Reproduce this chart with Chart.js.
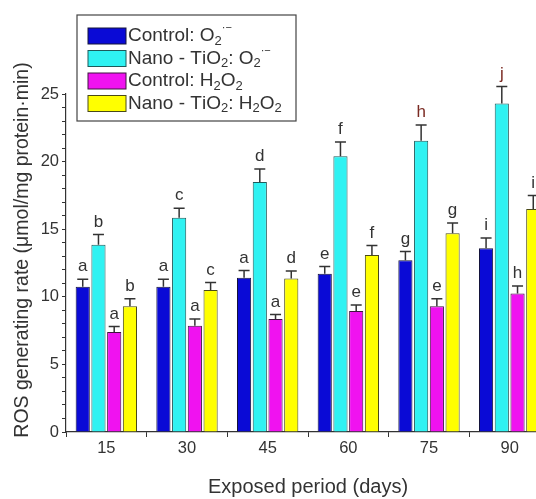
<!DOCTYPE html>
<html>
<head>
<meta charset="utf-8">
<script src="https://cdn.jsdelivr.net/npm/chart.js@4.4.1/dist/chart.umd.min.js"></script>
<style>
  body { margin: 0; background: #fff; }
  #wrap { width: 536px; height: 499px; overflow: hidden; }
</style>
</head>
<body>
<div id="wrap">
  <canvas id="rosChart" width="560" height="499"></canvas>
</div>
<script>
// datos
const days = ['15', '30', '45', '60', '75', '90'];
const seriesNames = ['Control: O₂˙⁻', 'Nano - TiO₂: O₂˙⁻', 'Control: H₂O₂', 'Nano - TiO₂: H₂O₂'];
const controlO2 = [10.75, 10.75, 11.4, 11.7, 12.7, 13.6];
const nanoO2 = [13.85, 15.85, 18.5, 20.4, 21.55, 24.3];
const controlH2O2 = [7.4, 7.85, 8.35, 8.95, 9.3, 10.25];
const nanoH2O2 = [9.3, 10.5, 11.35, 13.1, 14.7, 16.5];
const errControlO2 = [0.55, 0.55, 0.55, 0.55, 0.65, 0.75];
const errNanoO2 = [0.75, 0.7, 0.95, 1.05, 1.15, 1.25];
const errControlH2O2 = [0.4, 0.5, 0.35, 0.45, 0.55, 0.55];
const errNanoH2O2 = [0.55, 0.55, 0.55, 0.7, 0.75, 1.0];
const lettersControlO2 = ['a', 'a', 'a', 'e', 'g', 'i'];
const lettersNanoO2 = ['b', 'c', 'd', 'f', 'h', 'j'];
const lettersControlH2O2 = ['a', 'a', 'a', 'e', 'e', 'h'];
const lettersNanoH2O2 = ['b', 'c', 'd', 'f', 'g', 'i'];
const yTicks = [0, 5, 10, 15, 20, 25];
const yTitle = 'ROS generating rate (μmol/mg protein·min)';

const FONT = "'Liberation Sans', Arial, sans-serif";
const colors = ['#0a0ad6', '#2ff2f2', '#f012f0', '#ffff00'];
const borders = ['#14143a', '#1f5a5a', '#3f143f', '#4a4a18'];
const errors = [errControlO2, errNanoO2, errControlH2O2, errNanoH2O2];
const letters = [lettersControlO2, lettersNanoO2, lettersControlH2O2, lettersNanoH2O2];
const values = [controlO2, nanoO2, controlH2O2, nanoH2O2];

// barras de error y letras
const errorBars = {
    id: 'errorBars',
    afterDatasetsDraw(chart) {
        const ctx = chart.ctx;
        const y = chart.scales.y;
        ctx.save();
        chart.data.datasets.forEach((ds, i) => {
            const meta = chart.getDatasetMeta(i);
            meta.data.forEach((bar, j) => {
                const top = y.getPixelForValue(ds.data[j] + errors[i][j]);
                ctx.strokeStyle = '#333';
                ctx.lineWidth = 1.5;
                ctx.beginPath();
                ctx.moveTo(bar.x, bar.y);
                ctx.lineTo(bar.x, top);
                ctx.moveTo(bar.x - 5.5, top);
                ctx.lineTo(bar.x + 5.5, top);
                ctx.stroke();
                const l = letters[i][j];
                ctx.fillStyle = (l === 'h' && i === 1) || l === 'j' ? '#7a2a22' : '#333';
                ctx.font = '17px ' + FONT;
                ctx.textAlign = 'center';
                ctx.textBaseline = 'bottom';
                ctx.fillText(l, bar.x, top - 4);
            });
        });
        ctx.restore();
    }
};

// titulo del eje y, un poco mas arriba que el centro
const yAxisTitle = {
    id: 'yAxisTitle',
    afterDraw(chart) {
        const ctx = chart.ctx;
        ctx.save();
        ctx.translate(23, 250);
        ctx.rotate(-Math.PI / 2);
        ctx.fillStyle = '#333';
        ctx.font = '19.5px ' + FONT;
        ctx.textAlign = 'center';
        ctx.textBaseline = 'middle';
        ctx.fillText(yTitle, 0, 0);
        ctx.restore();
    }
};

// dibuja texto con subindices y superindices
function richText(ctx, str, x, y) {
    const subs = { '₂': '2' };
    const sups = { '˙': '·', '⁻': '−' };
    let cx = x;
    for (const ch of str) {
        if (subs[ch]) {
            ctx.font = '13px ' + FONT;
            ctx.fillText(subs[ch], cx, y + 5);
            cx += ctx.measureText(subs[ch]).width;
        } else if (sups[ch]) {
            ctx.font = '11px ' + FONT;
            ctx.fillText(sups[ch], cx, y - 8);
            cx += ctx.measureText(sups[ch]).width;
        } else {
            ctx.font = '19px ' + FONT;
            ctx.fillText(ch, cx, y);
            cx += ctx.measureText(ch).width;
        }
    }
}

const boxLegend = {
    id: 'boxLegend',
    afterDraw(chart) {
        const ctx = chart.ctx;
        ctx.save();
        ctx.fillStyle = '#fff';
        ctx.fillRect(77, 15, 219, 106);
        ctx.strokeStyle = '#444';
        ctx.lineWidth = 1.2;
        ctx.strokeRect(77, 15, 219, 106);
        chart.data.datasets.forEach((ds, i) => {
            const cy = 36 + i * 22.5;
            ctx.fillStyle = ds.backgroundColor;
            ctx.fillRect(88, cy - 8, 38, 16);
            ctx.strokeStyle = ds.borderColor;
            ctx.lineWidth = 1;
            ctx.strokeRect(88, cy - 8, 38, 16);
            ctx.fillStyle = '#333';
            ctx.textAlign = 'left';
            ctx.textBaseline = 'middle';
            richText(ctx, ds.label, 128, cy);
        });
        ctx.restore();
    }
};

new Chart(document.getElementById('rosChart'), {
    type: 'bar',
    data: {
        labels: days,
        datasets: values.map((v, i) => ({
            label: seriesNames[i],
            data: v,
            backgroundColor: colors[i],
            borderColor: borders[i],
            borderWidth: 1,
            borderSkipped: 'bottom',
            categoryPercentage: 0.78,
            barPercentage: 0.9
        }))
    },
    options: {
        responsive: false,
        animation: false,
        layout: { padding: { top: 94, right: 10, left: 0, bottom: 0 } },
        plugins: { legend: { display: false }, tooltip: { enabled: false } },
        scales: {
            x: {
                afterFit: s => { s.height = 67; },
                grid: { offset: true, drawOnChartArea: false, tickLength: 5, color: '#333' },
                border: { color: '#333', width: 1.2 },
                ticks: { color: '#333', font: { family: FONT, size: 16.5 }, padding: 2 },
                title: {
                    display: true, text: 'Exposed period (days)', color: '#333',
                    font: { family: FONT, size: 20 }, padding: { top: 0, bottom: 0 }
                }
            },
            y: {
                min: 0, max: 25,
                afterFit: s => { s.width = 66; },
                afterBuildTicks: s => {
                    const t = [];
                    for (let k = 0; k <= 25; k++) t.push({ value: k });
                    s.ticks = t;
                },
                grid: { drawOnChartArea: false, tickLength: 4, color: '#333' },
                border: { color: '#333', width: 1.2 },
                ticks: {
                    color: '#333', font: { family: FONT, size: 16.5 }, padding: 3, autoSkip: false,
                    callback: v => yTicks.includes(v) ? String(v) : ''
                },
                title: { display: false }
            }
        }
    },
    plugins: [errorBars, yAxisTitle, boxLegend]
});
</script>
</body>
</html>
